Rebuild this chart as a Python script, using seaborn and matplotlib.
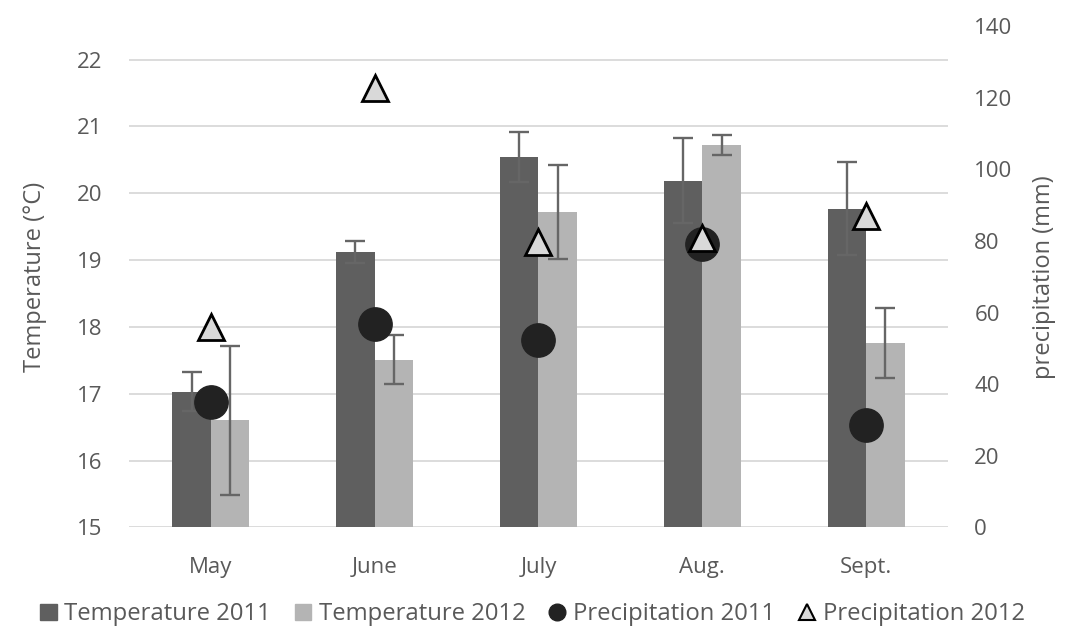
import seaborn as sns
import matplotlib.pyplot as plt
import matplotlib.lines as mlines
import matplotlib.patches as mpatches
import pandas as pd
import numpy as np

sns.set_theme(style="white")
plt.rcParams['font.family'] = ['Open Sans', 'DejaVu Sans']

# --- datos ---
meses = ["May", "June", "July", "Aug.", "Sept."]
temp_2011 = [17.03, 19.12, 20.54, 20.19, 19.77]
temp_2012 = [16.60, 17.51, 19.72, 20.72, 17.76]
err_2011 = [0.29, 0.17, 0.37, 0.64, 0.70]
err_2012 = [1.11, 0.37, 0.70, 0.15, 0.53]
prec_2011 = [35.1, 56.9, 52.3, 79.2, 28.6]
prec_2012 = [56.0, 122.7, 79.7, 80.8, 87.0]

gris_osc = "#5f5f5f"
gris_cla = "#b4b4b4"
texto = "#595959"

df = pd.DataFrame({
    "mes": meses * 2,
    "temp": temp_2011 + temp_2012,
    "serie": ["Temperature 2011"] * 5 + ["Temperature 2012"] * 5,
})

fig = plt.figure(figsize=(10.65, 6.4), dpi=100)
ax = fig.add_axes([0.1211, 0.176, 0.769, 0.783])

ancho = 0.47
sns.barplot(data=df, x="mes", y="temp", hue="serie", order=meses,
            palette=[gris_osc, gris_cla], width=ancho, errorbar=None,
            legend=False, ax=ax, zorder=2, linewidth=0)
# barplot parte de 0; recortar el eje
ax.set_ylim(15, 22.5)

x = np.arange(len(meses))
desp = ancho / 4
ax.errorbar(x - desp, temp_2011, yerr=err_2011, fmt="none", ecolor="#666666",
            elinewidth=1.7, capsize=7, capthick=1.7, zorder=3)
ax.errorbar(x + desp, temp_2012, yerr=err_2012, fmt="none", ecolor="#666666",
            elinewidth=1.7, capsize=7, capthick=1.7, zorder=3)

ax.set_yticks(range(15, 23))
ax.grid(axis="y", color="#d9d9d9", linewidth=1.3, zorder=0)
ax.set_axisbelow(True)
for s in ax.spines.values():
    s.set_visible(False)
ax.set_xlabel("")
ax.set_ylabel("Temperature (°C)", fontsize=17, color=texto, labelpad=22)
ax.tick_params(axis="both", length=0, labelsize=16, labelcolor=texto)
ax.tick_params(axis="x", pad=21)
ax.tick_params(axis="y", pad=19)
ax.set_xlim(-0.5, 4.5)

# eje secundario: precipitación
ax2 = ax.twinx()
ax2.set_ylim(0, 140)
ax2.set_yticks(range(0, 141, 20))
ax2.plot(x, prec_2011, linestyle="none", marker="o", markersize=24,
         markerfacecolor="#222222", markeredgecolor="#222222", zorder=4)
ax2.plot(x, prec_2012, linestyle="none", marker="^", markersize=19,
         markerfacecolor="#d9d9d9", markeredgecolor="black",
         markeredgewidth=2, zorder=5)
for s in ax2.spines.values():
    s.set_visible(False)
ax2.set_ylabel("precipitation (mm)", fontsize=17, color=texto, labelpad=14)
ax2.tick_params(axis="y", length=0, labelsize=16, labelcolor=texto, pad=19)

# leyenda
h = [
    mpatches.Patch(color=gris_osc, label="Temperature 2011"),
    mpatches.Patch(color=gris_cla, label="Temperature 2012"),
    mlines.Line2D([], [], linestyle="none", marker="o", markersize=12,
                  color="#222222", label="Precipitation 2011"),
    mlines.Line2D([], [], linestyle="none", marker="^", markersize=11,
                  markerfacecolor="#d9d9d9", markeredgecolor="black",
                  markeredgewidth=1.5, label="Precipitation 2012"),
]
leg = fig.legend(handles=h, loc="center", bbox_to_anchor=(0.5, 0.04), ncol=4,
                 frameon=False, fontsize=17.2, handlelength=0.7,
                 handleheight=0.7, handletextpad=0.3, columnspacing=1.0)
for t in leg.get_texts():
    t.set_color(texto)

fig.savefig("out.png", dpi=100)
